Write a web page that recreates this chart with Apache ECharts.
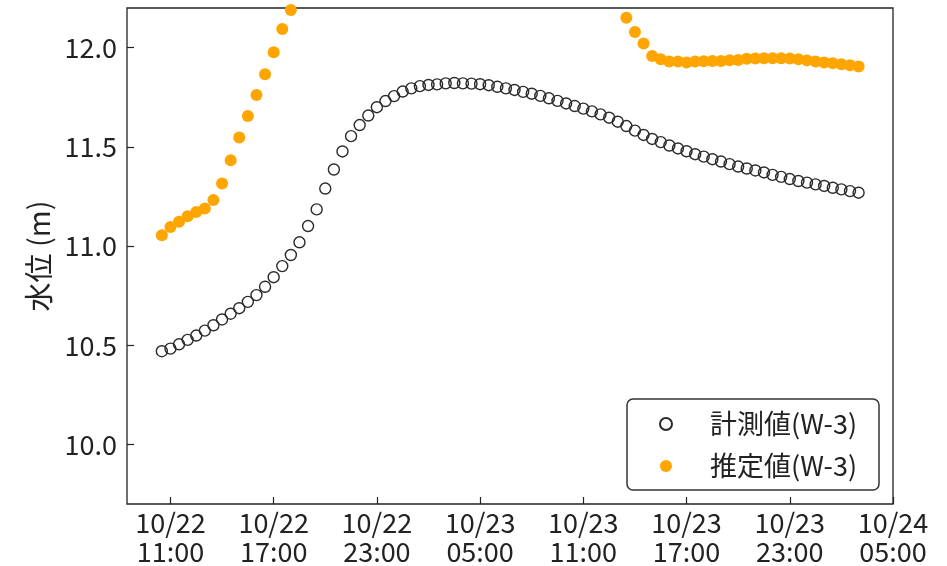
<!DOCTYPE html>
<html>
<head>
<meta charset="utf-8">
<script src="https://cdn.jsdelivr.net/npm/echarts@6/dist/echarts.min.js"></script>
<style>
  html, body { margin: 0; padding: 0; background: #fff; }
  #chart { width: 947px; height: 566px; }
</style>
</head>
<body>
<div id="chart"></div>
<script>
// Time is in hours counted from 10/22 05:00; samples every 30 minutes from 10/22 10:30.
const startHour = 5.5;
const stepHour = 0.5;

// 計測値 (W-3) water level, m
const measuredLevel = [
  10.470, 10.483, 10.505, 10.527, 10.549, 10.574, 10.601, 10.630, 10.659, 10.687,
  10.719, 10.753, 10.795, 10.843, 10.899, 10.955, 11.019, 11.101, 11.185, 11.290,
  11.386, 11.477, 11.554, 11.610, 11.658, 11.700, 11.731, 11.756, 11.779, 11.795,
  11.806, 11.812, 11.815, 11.820, 11.822, 11.820, 11.819, 11.816, 11.811, 11.803,
  11.795, 11.787, 11.777, 11.768, 11.757, 11.745, 11.732, 11.719, 11.706, 11.693,
  11.679, 11.664, 11.647, 11.627, 11.605, 11.582, 11.560, 11.540, 11.524, 11.507,
  11.492, 11.478, 11.463, 11.451, 11.438, 11.426, 11.413, 11.401, 11.391, 11.381,
  11.371, 11.359, 11.349, 11.338, 11.328, 11.320, 11.311, 11.303, 11.294, 11.286,
  11.277, 11.269
];

// 推定値 (W-3) water level, m (null where the value lies above the plotted range)
const estimatedLevel = [
  11.054, 11.096, 11.123, 11.150, 11.172, 11.190, 11.232, 11.316, 11.433, 11.547,
  11.656, 11.761, 11.866, 11.977, 12.094, 12.190, null, null, null, null,
  null, null, null, null, null, null, null, null, null, null,
  null, null, null, null, null, null, null, null, null, null,
  null, null, null, null, null, null, null, null, null, null,
  null, null, null, null, 12.151, 12.079, 12.021, 11.958, 11.942, 11.930,
  11.930, 11.925, 11.930, 11.932, 11.933, 11.933, 11.937, 11.938, 11.944, 11.946,
  11.947, 11.947, 11.947, 11.946, 11.942, 11.936, 11.930, 11.925, 11.921, 11.917,
  11.912, 11.905
];

// Axis ticks
const xTickHours = [6, 12, 18, 24, 30, 36, 42, 48];
const yTickValues = [10.0, 10.5, 11.0, 11.5, 12.0];

const seriesNames = ['計測値(W-3)', '推定値(W-3)'];
const yAxisName = '水位 (m)';

function pairs(values) {
  const out = [];
  values.forEach(function (v, i) {
    out.push([startHour + stepHour * i, v]);
  });
  return out;
}

function hourLabel(h) {
  const total = Math.round(h + 5);
  const day = 22 + Math.floor(total / 24);
  const hour = total % 24;
  return '10/' + day + '\n' + (hour < 10 ? '0' : '') + hour + ':00';
}

const FONT = '"Noto Sans CJK JP", "Noto Sans", sans-serif';
const INK = '#222';

const chart = echarts.init(document.getElementById('chart'), null, { renderer: 'canvas' });

chart.setOption({
  animation: false,
  backgroundColor: '#fff',
  textStyle: { fontFamily: FONT },
  grid: {
    left: 127, right: 54, top: 8, bottom: 62,
    show: true, borderColor: INK, borderWidth: 1.3, backgroundColor: 'transparent'
  },
  xAxis: {
    type: 'value',
    min: 3.475,
    max: 48,
    axisLine: { show: false },
    splitLine: { show: false },
    axisTick: {
      show: true, inside: true, length: 7,
      lineStyle: { color: INK, width: 1.2 },
      customValues: xTickHours
    },
    axisLabel: {
      customValues: xTickHours,
      formatter: hourLabel,
      color: INK, fontSize: 27, lineHeight: 29, margin: 4,
      fontFamily: FONT
    }
  },
  yAxis: {
    type: 'value',
    min: 9.7,
    max: 12.2,
    name: yAxisName,
    nameLocation: 'middle',
    nameGap: 70,
    nameTextStyle: { color: INK, fontSize: 29, fontFamily: FONT },
    axisLine: { show: false },
    splitLine: { show: false },
    axisTick: {
      show: true, inside: true, length: 7,
      lineStyle: { color: INK, width: 1.2 },
      customValues: yTickValues
    },
    axisLabel: {
      customValues: yTickValues,
      formatter: function (v) { return v.toFixed(1); },
      color: INK, fontSize: 27, margin: 10,
      fontFamily: FONT
    }
  },
  legend: {
    orient: 'vertical',
    left: 627,
    top: 399,
    padding: [10, 22, 9, 32],
    itemGap: 12,
    itemWidth: 24,
    itemHeight: 12,
    borderColor: '#333',
    borderWidth: 1.5,
    borderRadius: 6,
    backgroundColor: '#fff',
    textStyle: {
      color: INK, fontSize: 27, lineHeight: 30, fontFamily: FONT,
      padding: [0, 0, 0, 27]
    },
    data: seriesNames
  },
  series: [
    {
      name: seriesNames[0],
      type: 'scatter',
      symbol: 'circle',
      symbolSize: 11,
      clip: true,
      itemStyle: { color: 'transparent', borderColor: '#2a2a2a', borderWidth: 1.4, opacity: 1 },
      data: pairs(measuredLevel)
    },
    {
      name: seriesNames[1],
      type: 'scatter',
      symbol: 'circle',
      symbolSize: 12,
      clip: true,
      itemStyle: { color: '#FFA500', opacity: 1 },
      data: pairs(estimatedLevel)
    }
  ]
});
</script>
</body>
</html>
